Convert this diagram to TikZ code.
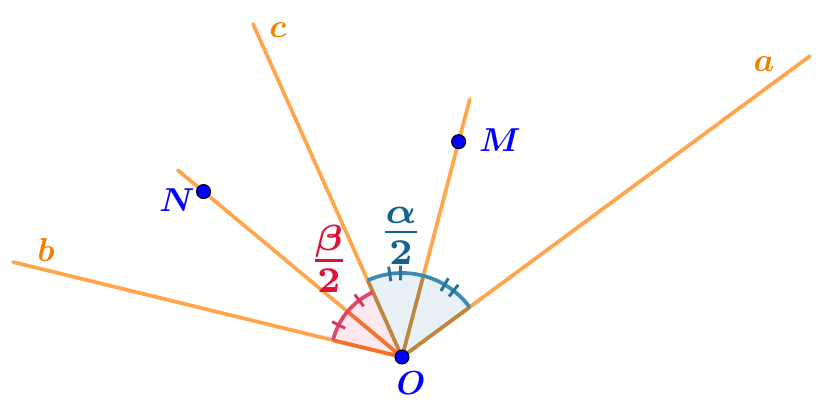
\documentclass[tikz,border=0pt]{standalone}
\usepackage{amsmath}
\usepackage{exscale}
\definecolor{rayor}{RGB}{255,166,77}
\definecolor{txtor}{RGB}{242,128,0}
\definecolor{arcblue}{RGB}{58,138,178}
\definecolor{tickblue}{RGB}{35,115,155}
\definecolor{fracblue}{RGB}{18,100,140}
\definecolor{fillblue}{RGB}{230,239,245}
\definecolor{arcred}{RGB}{222,72,105}
\definecolor{tickred}{RGB}{215,55,90}
\definecolor{fracred}{RGB}{220,20,60}
\definecolor{fillred}{RGB}{252,230,236}
\definecolor{radbrown}{RGB}{192,134,64}
\definecolor{radred}{RGB}{246,112,40}
\definecolor{dotblue}{RGB}{0,0,255}
\tikzset{
  ray/.style={draw=rayor, line width=2.8pt, line cap=round},
  radb/.style={draw=radbrown, line width=2.8pt},
  radr/.style={draw=radred, line width=2.8pt},
  arcb/.style={draw=arcblue, line width=2.8pt},
  arcr/.style={draw=arcred, line width=2.8pt},
  tickb/.style={draw=tickblue, line width=2.2pt},
  tickr/.style={draw=tickred, line width=2.2pt},
  dot/.style={circle, fill=dotblue, draw=black, line width=0.8pt, inner sep=0pt, minimum size=10.5pt},
  orlab/.style={text=txtor, font=\fontsize{25}{30}\selectfont\boldmath},
  bllab/.style={text=dotblue, font=\fontsize{25}{30}\selectfont\boldmath},
  fraclab/.style={scale=3.9, font=\boldmath},
}
\begin{document}
\begin{tikzpicture}[x=0.75pt,y=-0.75pt]
\useasboundingbox (0,0) rectangle (824,400);
\coordinate (O) at (402,357);
% ray ends
\coordinate (A) at ([shift={(36.42:380.25pt)}]O);
\coordinate (C) at ([shift={(114.1:273.6pt)}]O);
\coordinate (Me) at ([shift={(75.26:199.8pt)}]O);
\coordinate (B) at ([shift={(166.28:300.3pt)}]O);
\coordinate (Ne) at ([shift={(140.19:218.9pt)}]O);
% rays
\draw[ray] (O) -- (A);
\draw[ray] (O) -- (C);
\draw[ray] (O) -- (Me);
\draw[ray] (O) -- (B);
\draw[ray] (O) -- (Ne);
% sectors
\fill[fillblue, opacity=0.9] (O) -- ([shift={(36.42:63pt)}]O) arc[start angle=36.42, end angle=114.1, radius=63pt] -- cycle;
\fill[fillred, opacity=0.9] (O) -- ([shift={(114.1:53.25pt)}]O) arc[start angle=114.1, end angle=166.28, radius=53.25pt] -- cycle;
% radii overlays
\draw[radb] (O) -- ([shift={(36.42:63pt)}]O);
\draw[radb] (O) -- ([shift={(75.26:63pt)}]O);
\draw[radb] (O) -- ([shift={(114.1:63pt)}]O);
\draw[radr] (O) -- ([shift={(140.19:53.25pt)}]O);
\draw[radr] (O) -- ([shift={(166.28:53.25pt)}]O);
% arcs
\draw[arcb] ([shift={(36.42:63pt)}]O) arc[start angle=36.42, end angle=114.1, radius=63pt];
\draw[arcr] ([shift={(114.1:53.25pt)}]O) arc[start angle=114.1, end angle=166.28, radius=53.25pt];
% ticks
\foreach \t in {52.1,59.5,91.0,98.4}{
  \draw[tickb] ([shift={(\t:57.5pt)}]O) -- ([shift={(\t:68.5pt)}]O);
}
\foreach \t in {127.1,153.2}{
  \draw[tickr] ([shift={(\t:47.75pt)}]O) -- ([shift={(\t:58.75pt)}]O);
}
% points
\node[dot] (Od) at (O) {};
\node[dot] (Md) at ([shift={(75.26:167pt)}]O) {};
\node[dot] (Nd) at ([shift={(140.19:193.8pt)}]O) {};
% labels
\node[orlab] (la) at (764,64) {$a$};
\node[orlab] (lb) at (46,250) {$b$};
\node[orlab] (lc) at (278,30) {$c$};
\node[bllab] (lM) at (500,140) {$M$};
\node[bllab] (lN) at (177,200) {$N$};
\node[bllab] (lO) at (411,383) {$O$};
\node[fraclab, text=fracblue] (lal) at (401,236) {$\frac{\alpha}{2}$};
\node[fraclab, text=fracred] (lbe) at (329,259) {$\frac{\beta}{2}$};
\end{tikzpicture}
\end{document}
